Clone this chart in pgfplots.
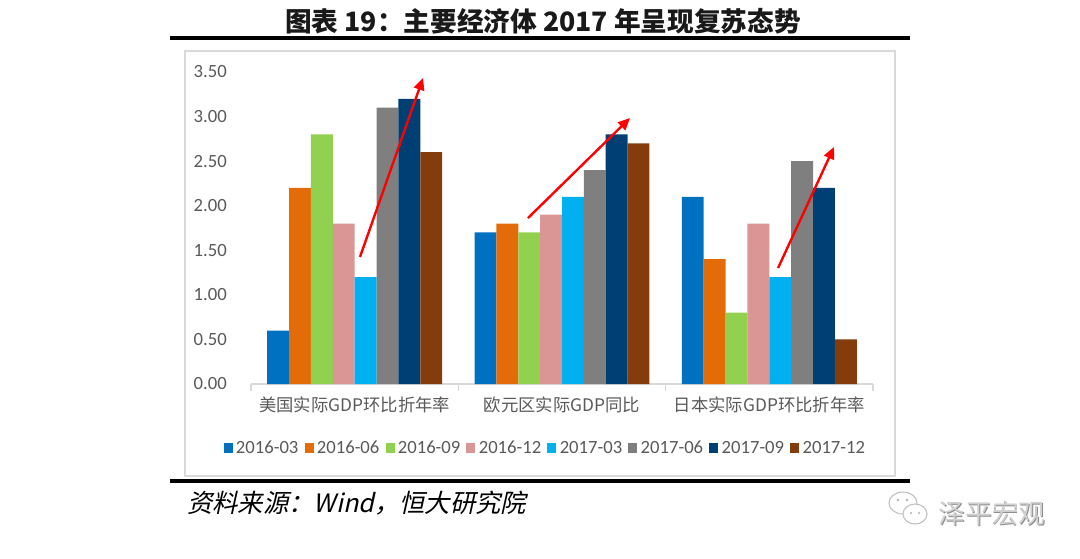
\documentclass[border=0pt]{standalone}
\usepackage{fontspec}
\setmainfont{Carlito}
\newfontfamily\cjk{Noto Sans CJK SC}
\newfontfamily\cjksl{Noto Sans CJK SC}[FakeSlant=0.22]
\usepackage{pgfplots}
\pgfplotsset{compat=1.18}
\usetikzlibrary{arrows.meta}
\definecolor{c1}{HTML}{0070C0}
\definecolor{c2}{HTML}{E36C09}
\definecolor{c3}{HTML}{92D050}
\definecolor{c4}{HTML}{D99694}
\definecolor{c5}{HTML}{00B0F0}
\definecolor{c6}{HTML}{7F7F7F}
\definecolor{c7}{HTML}{003F74}
\definecolor{c8}{HTML}{843C0C}
\definecolor{ticktext}{HTML}{595959}
\definecolor{framec}{HTML}{D9D9D9}
\begin{document}
\begin{tikzpicture}
\begin{scope}[x=0.75pt,y=-0.75pt]
\path[use as bounding box] (0,0) rectangle (1080,558);
\draw[framec, line width=1.1pt] (185,51) rectangle (895,476);
\draw[black, line width=2.6pt] (170,38) -- (910,38);
\draw[black, line width=2.6pt] (170,481) -- (910,481);
\node[font=\cjk\bfseries\fontsize{20}{24}\selectfont, text=black!90] at (543,21) {图表 19：主要经济体 2017 年呈现复苏态势};
\node[anchor=west, font=\cjksl\fontsize{19}{22}\selectfont, inner sep=0pt] at (187,503) {资料来源：Wind，恒大研究院};
% watermark
\draw[black!25, line width=0.8pt, fill=white] (903,503) ellipse (14 and 11);
\draw[black!25, line width=0.8pt, fill=white] (915,514) ellipse (12 and 10);
\fill[black!30] (898,500) circle (1.3) (907,500) circle (1.3) (911,513) circle (1.2) (919,513) circle (1.2);
\node[font=\cjk\fontsize{20}{24}\selectfont, text=black!45] at (992.7,514.2) {泽平宏观};
\node[font=\cjk\fontsize{20}{24}\selectfont, text=black!18] at (992,513) {泽平宏观};
\end{scope}
\begin{axis}[
  at={(188.25pt,-288pt)}, anchor=south west,
  scale only axis, width=466.5pt, height=234pt,
  ybar=0pt, bar width=16.4pt,
  xmin=-0.5, xmax=2.5, ymin=0, ymax=3.5,
  enlargelimits=false, clip=false,
  axis x line*=bottom, axis y line*=left,
  y axis line style={draw=none},
  x axis line style={draw=framec, line width=1.1pt},
  xtick={-0.5,0.5,1.5,2.5},
  xticklabels={},
  xtick style={draw=framec, line width=1.1pt},
  major tick length=5pt, tick align=outside,
  extra x ticks={0,1,2},
  extra x tick labels={美国实际GDP环比折年率, 欧元区实际GDP同比, 日本实际GDP环比折年率},
  extra x tick style={major tick length=0pt, xtick style={draw=none}},
  x tick label style={font=\cjk\fontsize{13}{15}\selectfont, text=ticktext, yshift=-6.4pt},
  ytick={0,0.5,1,1.5,2,2.5,3,3.5},
  ytick style={draw=none},
  y tick label style={font=\fontsize{14}{16}\selectfont, text=ticktext, xshift=-9.6pt,
     /pgf/number format/.cd, fixed, fixed zerofill, precision=2, assume math mode=true},
  legend columns=8,
  legend style={draw=none, fill=none, at={(0.4727,-0.205)}, anchor=center,
     font=\fontsize{14}{16}\selectfont, text=ticktext,
     /tikz/every odd column/.append style={column sep=1.5pt},
     /tikz/every even column/.append style={column sep=3.6pt},
     nodes={inner sep=1pt}},
  legend image code/.code={\fill[#1] (0pt,-3.4pt) rectangle (6.75pt,3.4pt);},
]
\addplot[fill=c1, draw=none] coordinates {(0,0.6) (1,1.7) (2,2.1)};
\addplot[fill=c2, draw=none] coordinates {(0,2.2) (1,1.8) (2,1.4)};
\addplot[fill=c3, draw=none] coordinates {(0,2.8) (1,1.7) (2,0.8)};
\addplot[fill=c4, draw=none] coordinates {(0,1.8) (1,1.9) (2,1.8)};
\addplot[fill=c5, draw=none] coordinates {(0,1.2) (1,2.1) (2,1.2)};
\addplot[fill=c6, draw=none] coordinates {(0,3.1) (1,2.4) (2,2.5)};
\addplot[fill=c7, draw=none] coordinates {(0,3.2) (1,2.8) (2,2.2)};
\addplot[fill=c8, draw=none] coordinates {(0,2.6) (1,2.7) (2,0.5)};
\legend{2016-03,2016-06,2016-09,2016-12,2017-03,2017-06,2017-09,2017-12}
\addplot[sharp plot, forget plot, red, line width=1.8pt, -{Triangle[length=9pt,width=8pt]}] coordinates {(0.0257,1.425) (0.3296,3.433)};
\addplot[sharp plot, forget plot, red, line width=1.8pt, -{Triangle[length=9pt,width=8pt]}] coordinates {(0.836,1.862) (1.328,2.984)};
\addplot[sharp plot, forget plot, red, line width=1.8pt, -{Triangle[length=9pt,width=8pt]}] coordinates {(2.042,1.301) (2.312,2.659)};
\end{axis}
\end{tikzpicture}
\end{document}
